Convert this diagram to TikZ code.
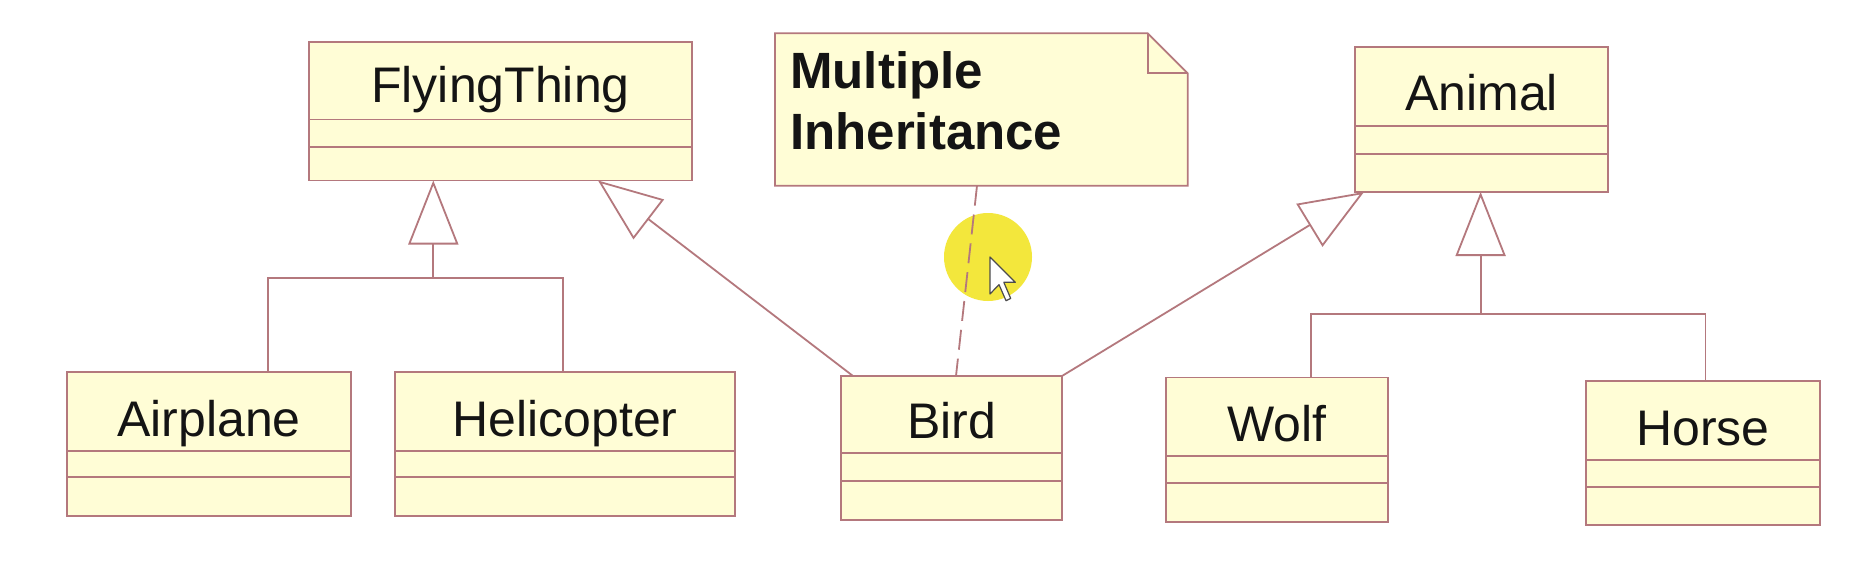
\documentclass[tikz,border=0pt]{standalone}
\usepackage{fontspec}
\setmainfont{Liberation Sans}
\usetikzlibrary{arrows.meta,calc}
\definecolor{umlline}{RGB}{180,120,125}
\definecolor{umlfill}{RGB}{255,253,214}
\definecolor{hilite}{RGB}{243,231,60}
\definecolor{inktext}{RGB}{20,20,20}
\tikzset{
  x=1pt, y=-1pt,
  edge/.style={draw=umlline, line width=1.8pt},
  classbox/.style={edge, fill=umlfill, rectangle, inner sep=0pt, outer sep=0pt},
  classname/.style={inner sep=0pt, text=inktext, font=\fontsize{50}{60}\selectfont},
  gen/.style={edge, line join=miter, -{Triangle[open, length=64pt, width=50pt]}},
  notelink/.style={edge, dash pattern=on 20pt off 9pt},
}
% id, text, left, top, right, bottom, div1, div2, baseline
\newcommand{\umlclass}[9]{%
  \pgfmathsetmacro\clsw{#5-#3}\pgfmathsetmacro\clsh{#6-#4}%
  \node[classbox, minimum width=\clsw pt, minimum height=\clsh pt, anchor=north west] (#1) at (#3,#4) {};
  \draw[edge] ($(#1.north west)+(0,#7-#4)$) -- ($(#1.north east)+(0,#7-#4)$);
  \draw[edge] ($(#1.north west)+(0,#8-#4)$) -- ($(#1.north east)+(0,#8-#4)$);
  \node[classname, anchor=base] (#1-name) at ($(#1.north)+(0,#9-#4)$) {#2};
}
\begin{document}
\begin{tikzpicture}
\fill[white] (0,0) rectangle (1870,572);
\useasboundingbox (0,0) rectangle (1870,572);

% classes
\umlclass{fly}{FlyingThing}{309}{42}{692}{180.5}{119.6}{147}{103}
\umlclass{ani}{Animal}{1355}{47}{1608}{192}{126}{154}{111}
\umlclass{air}{Airplane}{67}{372}{351}{516}{451}{477}{436}
\umlclass{heli}{Helicopter}{395}{372}{735}{516}{451}{477}{436}
\umlclass{bird}{Bird}{841}{376}{1062}{520}{453}{481}{438}
\umlclass{wolf}{Wolf}{1166}{377.5}{1388}{522}{456}{483}{441}
\umlclass{horse}{Horse}{1586}{381}{1820}{525}{460}{487}{445}

% note
\coordinate (noteNW) at (775,33.3);
\coordinate (noteSE) at (1187.7,185.7);
\filldraw[edge, fill=umlfill, line join=miter]
  (noteNW) -- ($(noteNW -| noteSE)+(-40,0)$) -- ($(noteNW -| noteSE)+(0,40)$)
  -- (noteSE) -- (noteSE -| noteNW) -- cycle;
\draw[edge, line join=miter] ($(noteNW -| noteSE)+(-40,0)$) -- ($(noteNW -| noteSE)+(-40,40)$) -- ($(noteNW -| noteSE)+(0,40)$);
\node[inner sep=0pt, anchor=base west, align=left, text=inktext,
      font=\fontsize{51}{61.7}\selectfont\bfseries] (note) at (790,150) {Multiple\\Inheritance};

% generalization trees
\coordinate (flyJ) at (433.3,278.3);
\draw[edge] ($(air.north west)+(201,0)$) |- (flyJ) -| ($(heli.north west)+(168.3,0)$);
\draw[gen] (flyJ) -- (flyJ |- fly.south);

\coordinate (aniJ) at (1480.6,314);
\draw[edge] ($(wolf.north west)+(144.7,0)$) |- (aniJ) -| ($(horse.north west)+(119.4,0)$);
\draw[gen] (aniJ) -- (aniJ |- ani.south);

% multiple inheritance
\draw[gen] ($(bird.north west)+(12,0)$) -- ($(fly.south west)+(289,0)$);
\draw[gen] (bird.north east) -- ($(ani.south west)+(9,0)$);

% cursor highlight
\fill[hilite] (988,257) circle[radius=44];

% note anchor link
\draw[notelink] ($(noteSE -| noteNW)+(202,0)$) -- ($(bird.north west)+(115,0)$);

% mouse cursor
\filldraw[fill=white, draw=black!70, line width=1.2pt, line join=round]
  (990,257) -- ++(0,37) -- ++(9,-9.4) -- ++(7,16.1) -- ++(4.7,-2.3) -- ++(-6.9,-16.1) -- ++(11.5,0) -- cycle;
\end{tikzpicture}
\end{document}
